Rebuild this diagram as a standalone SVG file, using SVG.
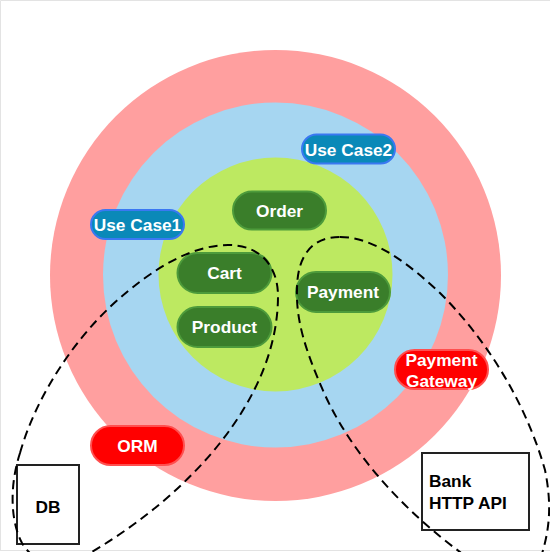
<svg xmlns="http://www.w3.org/2000/svg" width="550" height="552" viewBox="0 0 550 552">
<style>
text{font-family:"Liberation Sans",Arial,sans-serif;font-weight:bold;font-size:17.3px;text-anchor:middle}
.w{fill:#ffffff}
.k{fill:#000000}
.ent{fill:#3a7e2a;stroke:#4d9b3b;stroke-width:2}
.uc{fill:#0a89b8;stroke:#3a78f2;stroke-width:2}
.inf{fill:#ff0000;stroke:#ff4f4f;stroke-width:2}
.box{fill:#ffffff;stroke:#222222;stroke-width:2}
.dash{fill:none;stroke:#000000;stroke-width:2;stroke-dasharray:9 5.5}
</style>
<rect x="0" y="0" width="550" height="552" fill="#ffffff"/>
<path d="M0.5,551 V0.5 H550 M0,550.5 H550" fill="none" stroke="#e3e3e3" stroke-width="1"/>
<g id="layers">
<circle cx="275.5" cy="275.5" r="225.5" fill="#ff9f9f"/>
<circle cx="275.5" cy="275" r="172.5" fill="#a6d6f1"/>
<circle cx="275.5" cy="274.5" r="117" fill="#bde961"/>
</g>
<g id="order"><rect class="ent" x="233" y="191.5" width="93" height="38" rx="19"/><text class="w" x="279.5" y="217">Order</text></g>
<g id="usecase2"><rect class="uc" x="302" y="134.5" width="93" height="29" rx="14.5"/><text class="w" x="348.5" y="155.5">Use Case2</text></g>
<g id="usecase1"><rect class="uc" x="91" y="210" width="93" height="29" rx="14.5"/><text class="w" x="137.5" y="231">Use Case1</text></g>
<g id="cart"><rect class="ent" x="177.5" y="253" width="94" height="40" rx="20"/><text class="w" x="224.5" y="279">Cart</text></g>
<g id="product"><rect class="ent" x="177.5" y="307" width="94" height="40" rx="20"/><text class="w" x="224.5" y="333">Product</text></g>
<g id="payment"><rect class="ent" x="296" y="272" width="94" height="40" rx="20"/><text class="w" x="343" y="298">Payment</text></g>
<g id="payment-gateway"><rect class="inf" x="395" y="350" width="93" height="39" rx="19.5"/><text class="w" x="441.5" y="366">Payment</text><text class="w" x="441.5" y="387">Gateway</text></g>
<g id="orm"><rect class="inf" x="91" y="426" width="93" height="39" rx="19.5"/><text class="w" x="137.5" y="452">ORM</text></g>
<g id="db"><rect class="box" x="17" y="465" width="62" height="79"/><text class="k" x="48" y="513">DB</text></g>
<g id="bank-api"><rect class="box" x="422" y="453" width="107" height="77"/><text class="k" x="429" y="487" style="text-anchor:start">Bank</text><text class="k" x="429" y="509" style="text-anchor:start">HTTP API</text></g>
<g id="connectors">
<path class="dash" d="M20,453 C35,400 70,345 110,307 C155,265 195,245 228,245 C262,245 278,268 278,296 C278,345 258,395 220,443 C180,493 130,530 85,556 C60,570 35,565 22,543 C12,525 8,490 20,453 Z"/>
<path class="dash" d="M340,237 C375,237 410,265 440,293 C485,338 525,400 545,470 C552,505 550,530 540,560 C530,590 485,580 460,552 C410,515 355,460 325,395 C305,350 296,320 297,290 C297,258 310,237 340,237 Z"/>
</g>
</svg>
